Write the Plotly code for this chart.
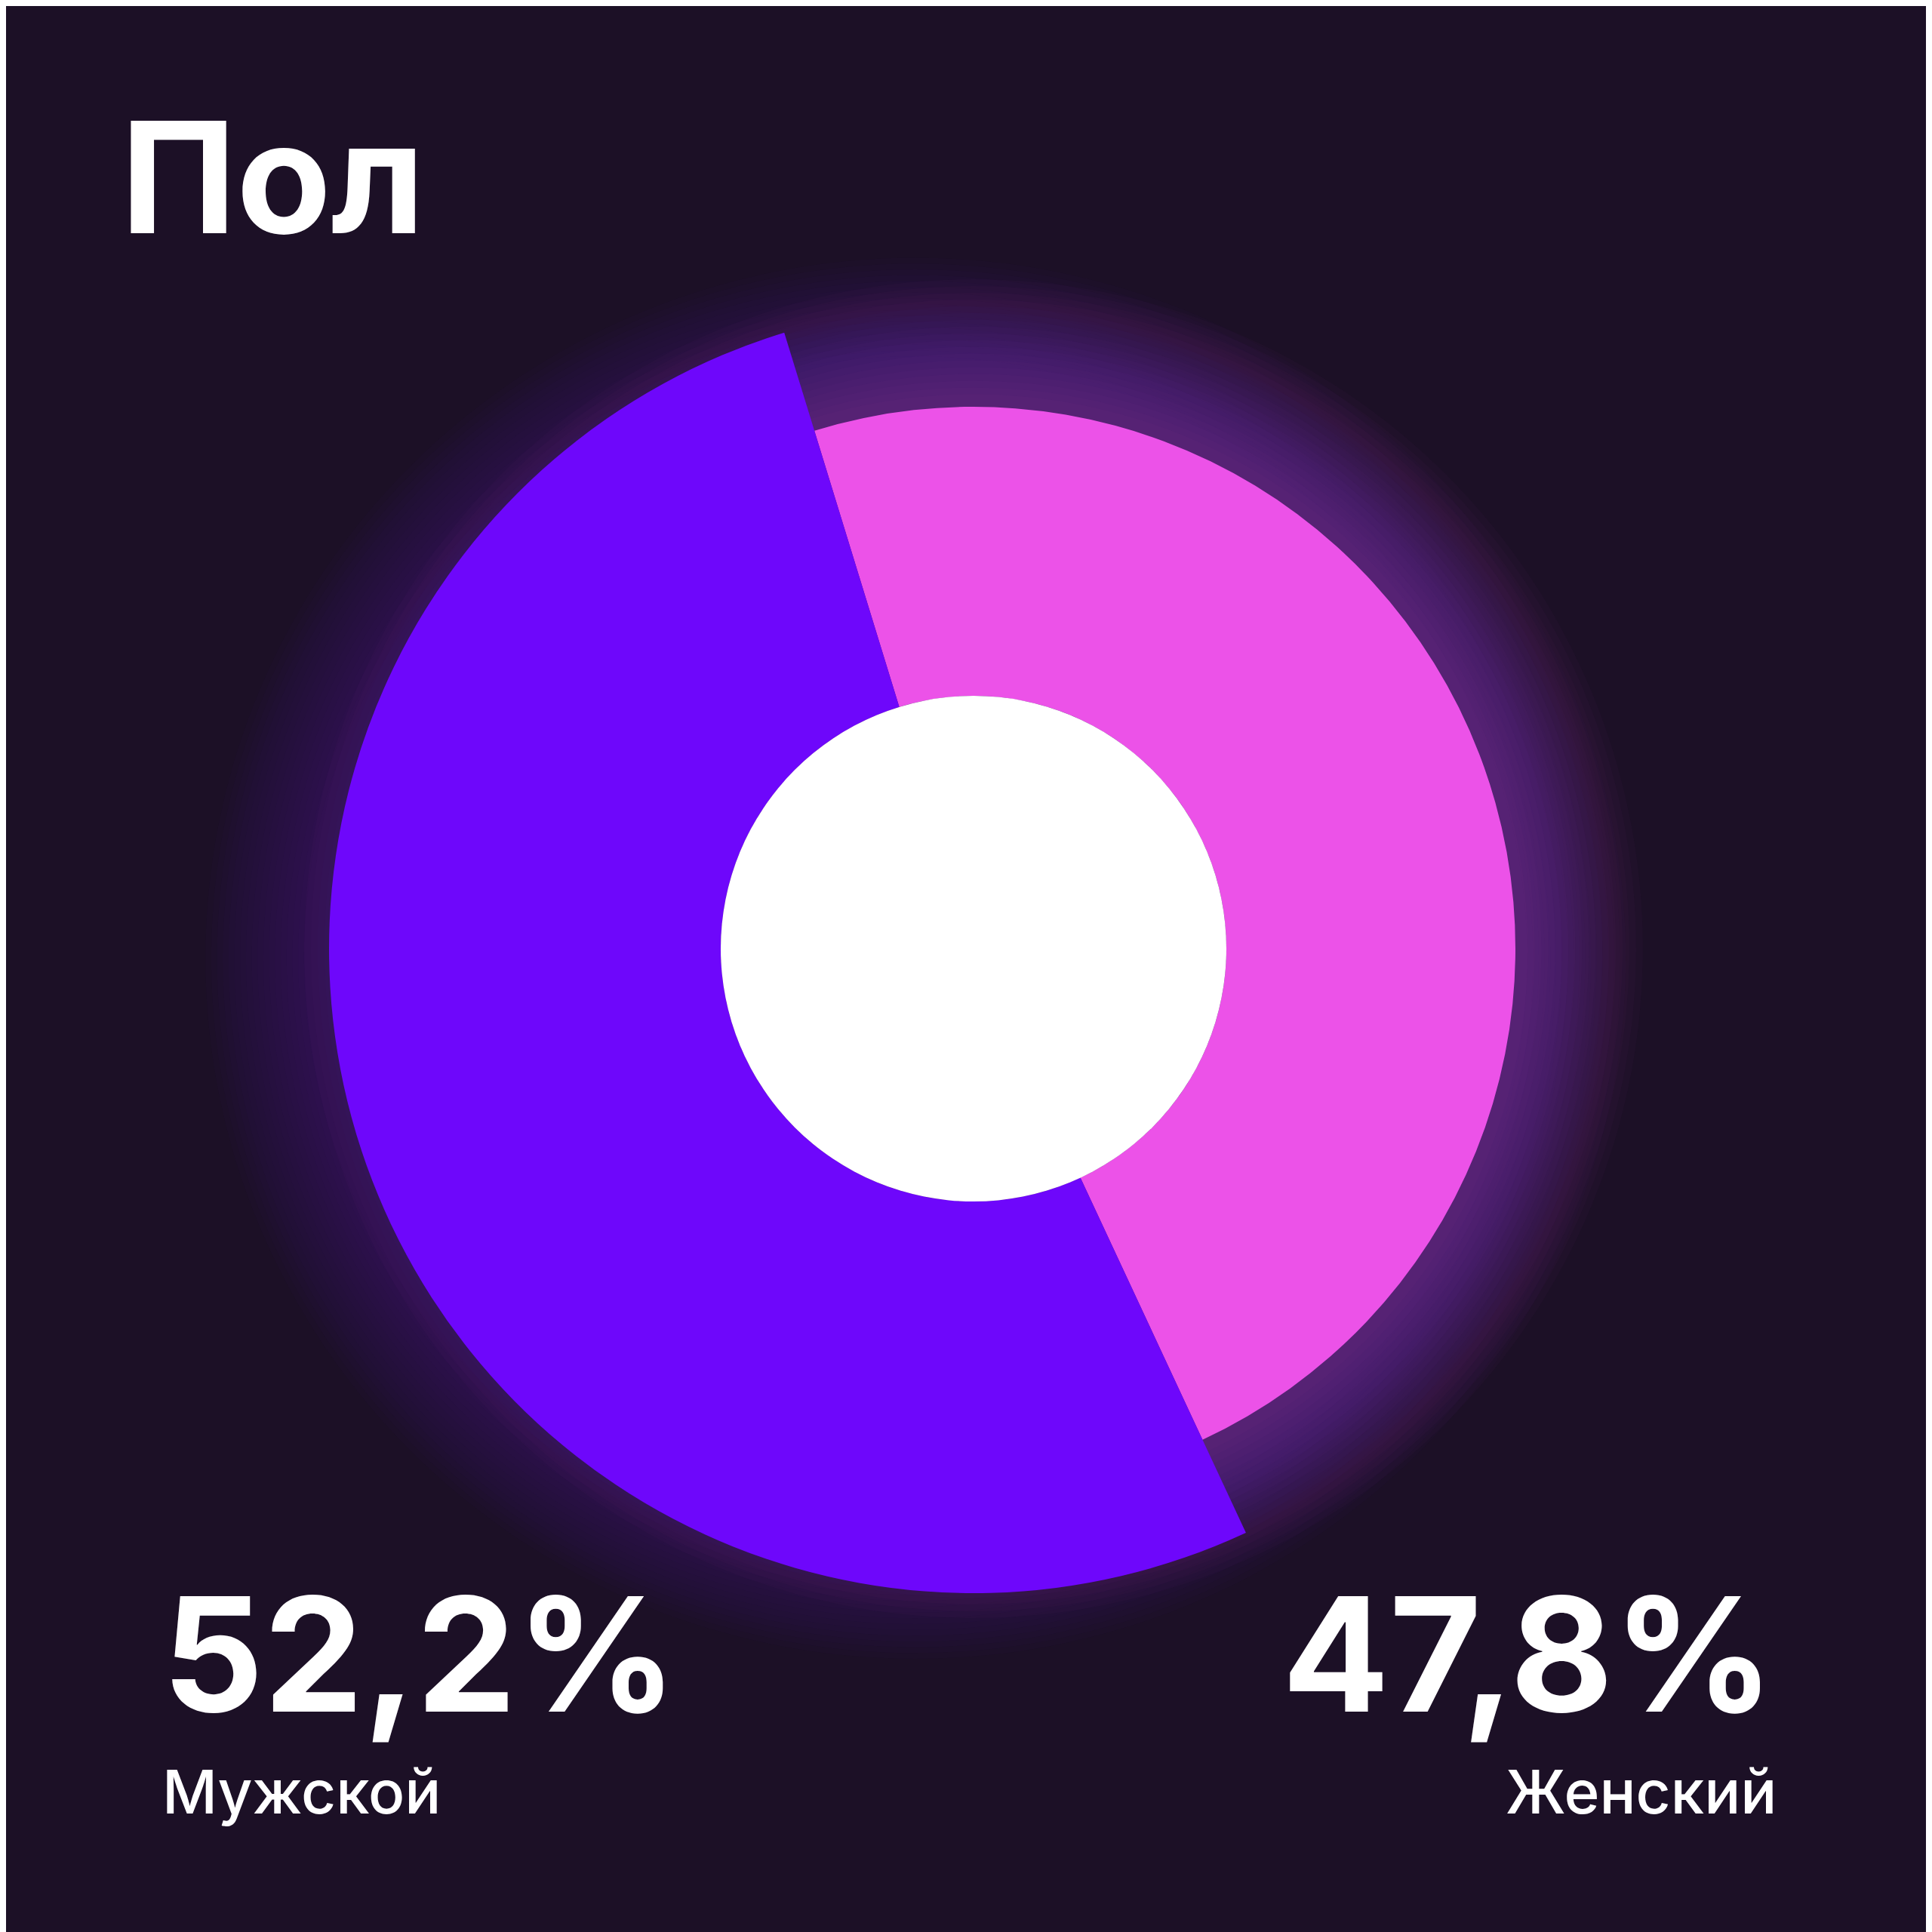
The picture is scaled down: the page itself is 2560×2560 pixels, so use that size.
import plotly.graph_objects as go

labels = ["Мужской", "Женский"]
values = [52.2, 47.8]
value_text = ["52,2%", "47,8%"]
title = "Пол"

W = 2560
cx, cy = 1282 / W, 1 - 1249 / W
r_out, r_pink, r_hole = 854 / W, 718 / W, 335 / W

fig = go.Figure()
shapes = []
n = 18
for i in range(n):
    r = r_pink + 0.003 + 0.0035 * (n - i)
    shapes.append(dict(type="circle", xref="paper", yref="paper",
                       x0=cx - r, x1=cx + r, y0=cy - r, y1=cy + r,
                       fillcolor="rgba(215,70,225,0.022)", line_width=0, layer="below"))
for i in range(n):
    r = r_out + 0.003 * (n - i)
    shapes.append(dict(type="circle", xref="paper", yref="paper",
                       x0=cx - r - 0.01, x1=cx + r - 0.05, y0=cy - r + 0.02, y1=cy + r - 0.03,
                       fillcolor="rgba(80,50,200,0.02)", line_width=0, layer="below"))

fig.add_trace(go.Pie(labels=labels, values=values, sort=False, direction="clockwise",
                     rotation=155, hole=r_hole / r_pink,
                     marker=dict(colors=["rgba(0,0,0,0)", "#EC52E8"], line_width=0),
                     textinfo="none", hoverinfo="skip", showlegend=False,
                     domain=dict(x=[cx - r_pink, cx + r_pink], y=[cy - r_pink, cy + r_pink])))
fig.add_trace(go.Pie(labels=labels, values=values, sort=False, direction="clockwise",
                     rotation=155, hole=r_hole / r_out,
                     marker=dict(colors=["#6E07FB", "rgba(0,0,0,0)"], line_width=0),
                     textinfo="none", hoverinfo="skip", showlegend=False,
                     domain=dict(x=[cx - r_out, cx + r_out], y=[cy - r_out, cy + r_out])))

shapes.append(dict(type="circle", xref="paper", yref="paper",
                   x0=cx - r_hole, x1=cx + r_hole, y0=cy - r_hole, y1=cy + r_hole,
                   fillcolor="white", line_width=0, layer="above"))

ann = [
    dict(text="<b>" + title + "</b>", x=150 / W, y=1 - 100 / W, xanchor="left", yanchor="top",
         font=dict(size=205, color="white", family="Inter")),
    dict(text="<b>" + value_text[0] + "</b>", x=205 / W, y=1 - 2055 / W, xanchor="left", yanchor="top",
         font=dict(size=210, color="white", family="Inter")),
    dict(text=labels[0], x=205 / W, y=1 - 2315 / W, xanchor="left", yanchor="top",
         font=dict(size=80, color="white", family="Inter", weight=500)),
    dict(text="<b>" + value_text[1] + "</b>", x=2345 / W, y=1 - 2055 / W, xanchor="right", yanchor="top",
         font=dict(size=210, color="white", family="Inter")),
    dict(text=labels[1], x=2348 / W, y=1 - 2315 / W, xanchor="right", yanchor="top",
         font=dict(size=80, color="white", family="Inter", weight=500)),
]
for a in ann:
    a.update(xref="paper", yref="paper", showarrow=False)

fig.update_layout(width=W, height=W, margin=dict(l=0, r=0, t=0, b=0),
                  paper_bgcolor="#1c1026", plot_bgcolor="#1c1026",
                  shapes=shapes, annotations=ann)
fig.write_html("out.html")
